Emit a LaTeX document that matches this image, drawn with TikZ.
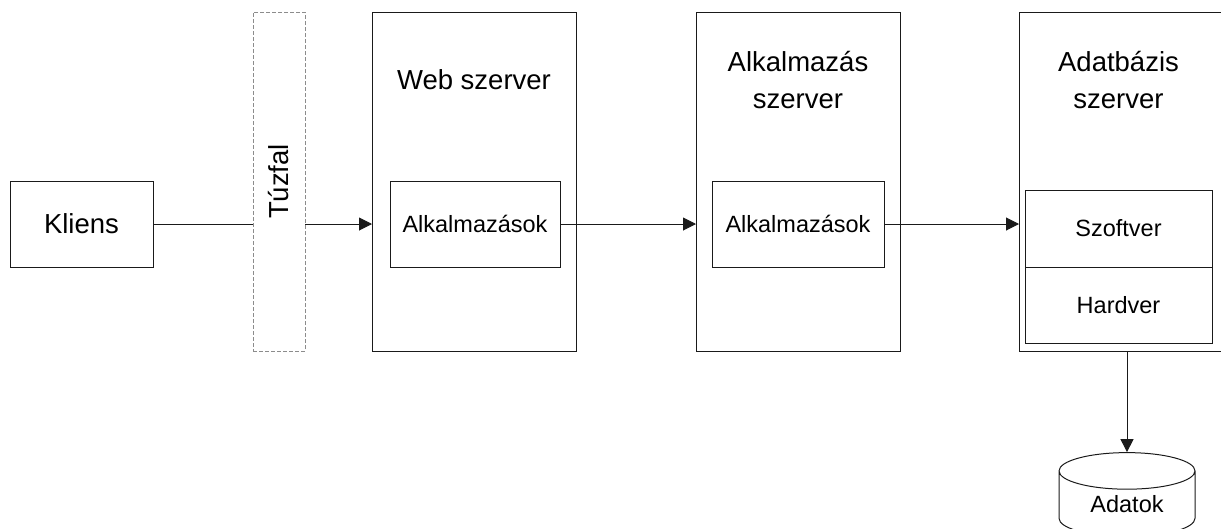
\documentclass[tikz,border=0pt]{standalone}
\usepackage{fontspec}
\setmainfont{Liberation Sans}
\usetikzlibrary{arrows.meta,positioning,shapes.geometric}
\definecolor{WallGray}{HTML}{8C8C8C}
\definecolor{LineDark}{HTML}{1A1A1A}

\begin{document}
\begin{tikzpicture}[x=1pt,y=-1pt, every node/.style={font=\fontsize{23.5}{27}\selectfont},
	title/.style={font=\fontsize{27.5}{37}\selectfont,align=center},
	box/.style={draw=LineDark,line width=1pt,inner sep=0pt,outer sep=0pt},
	wall/.style={box,draw=WallGray,dashed,dash pattern=on 4pt off 2pt},
	arr/.style={-{Triangle[length=13pt,width=13pt]},line width=1pt,LineDark}]
	\useasboundingbox (0,0) rectangle (1221,528);
	% client and firewall
	\node[box,minimum width=143,minimum height=86,font=\fontsize{27.5}{30}\selectfont] (kliens) at (81.5,224) {Kliens};
	\node[wall,minimum width=52,minimum height=339,font=\fontsize{27.5}{30}\selectfont] (fal) at (279,181.5) {\rotatebox{90}{Túzfal}};
	% web server
	\node[box,minimum width=204,minimum height=339] (web) at (474,181.5) {};
	\node[box,minimum width=170,minimum height=86] (webapp) at (475,224) {Alkalmazások};
	\node[title] (webtitle) at (474,80) {Web szerver};
	% application server
	\node[box,minimum width=204,minimum height=339] (app) at (798,181.5) {};
	\node[box,minimum width=172,minimum height=86] (appapp) at (798,224) {Alkalmazások};
	\node[title] (apptitle) at (798,80) {Alkalmazás\\szerver};
	% database server
	\node[box,minimum width=216,minimum height=339] (db) at (1127,181.5) {};
	\node[box,minimum width=187,minimum height=77] (szoft) at (1118.5,228.5) {Szoftver};
	\node[box,minimum width=187,minimum height=76,below=0pt of szoft] (hard) {Hardver};
	\node[title] (dbtitle) at (1118.5,80) {Adatbázis\\szerver};
	\node[cylinder,shape border rotate=90,draw=LineDark,line width=1pt,aspect=0.5,
		minimum width=136,minimum height=84,inner sep=0pt] (adat) at (1127,504) {Adatok};
	% connectors
	\draw[line width=1pt,LineDark] (kliens.east) -- (kliens.east -| fal.west);
	\draw[arr] (kliens.east -| fal.east) -- (kliens.east -| web.west);
	\draw[arr] (webapp.east) -- (webapp.east -| app.west);
	\draw[arr] (appapp.east) -- (appapp.east -| db.west);
	\draw[arr] (db.south) -- (adat.north);
\end{tikzpicture}
\end{document}
